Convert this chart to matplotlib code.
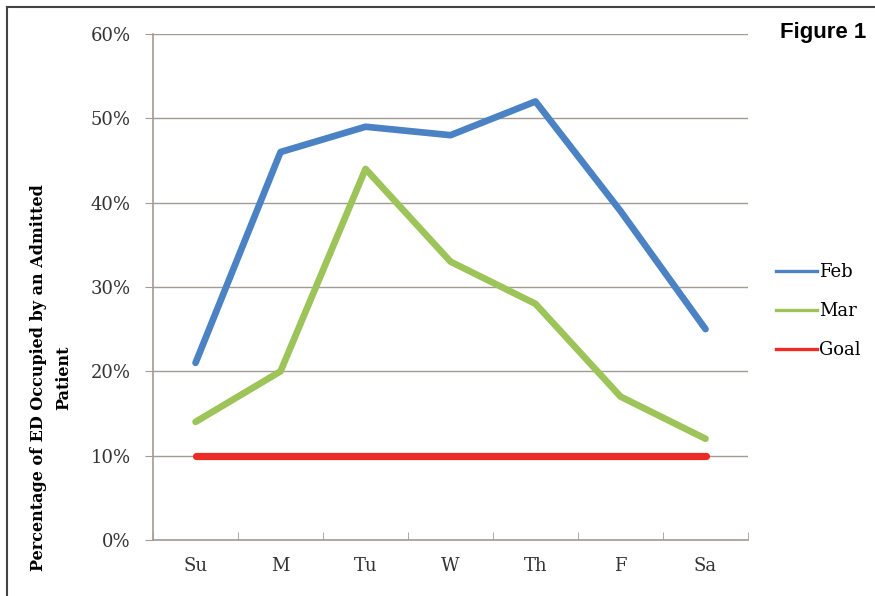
import matplotlib.pyplot as plt
from matplotlib.lines import Line2D

days = ['Su', 'M', 'Tu', 'W', 'Th', 'F', 'Sa']
feb = [21, 46, 49, 48, 52, 39, 25]
mar = [14, 20, 44, 33, 28, 17, 12]
goal = [10, 10, 10, 10, 10, 10, 10]
yticks = [0, 10, 20, 30, 40, 50, 60]

plt.rcParams['font.family'] = ['DejaVu Serif']

fig = plt.figure(figsize=(8.75, 5.96), dpi=100)
ax = fig.add_axes([0.1749, 0.094, 0.68, 0.849])

grid_col = '#a39a92'
x = range(len(days))
ax.plot(x, feb, color='#4a82c4', lw=4.8, solid_capstyle='round', label='Feb')
ax.plot(x, mar, color='#9cc459', lw=4.8, solid_capstyle='round', label='Mar')
ax.plot(x, goal, color='#ec2b25', lw=5.2, solid_capstyle='round', label='Goal')

ax.set_xlim(-0.5, 6.5)
ax.set_ylim(0, 60)
ax.set_yticks(yticks)
ax.set_yticklabels([f'{v}%' for v in yticks])
ax.set_xticks(list(x))
ax.set_xticklabels(days)
ax.set_xticks([i - 0.5 for i in range(8)], minor=True)
ax.tick_params(axis='x', which='major', length=0, pad=12, labelsize=13, colors='#333333')
ax.tick_params(axis='x', which='minor', length=6, color=grid_col, direction='in')
ax.tick_params(axis='y', length=6, color=grid_col, pad=10, labelsize=13, labelcolor='#333333')
ax.grid(axis='y', color=grid_col, lw=1)
ax.set_axisbelow(True)
for s in ['top', 'right']:
    ax.spines[s].set_visible(False)
for s in ['left', 'bottom']:
    ax.spines[s].set_color(grid_col)
    ax.spines[s].set_linewidth(1.2)

ax.set_ylabel('Percentage of ED Occupied by an Admitted\nPatient', fontsize=11.5,
              fontweight='bold', linespacing=1.65)
ax.yaxis.set_label_coords(-0.135, 0.32)

handles = [Line2D([], [], color='#4a82c4', lw=2.4),
           Line2D([], [], color='#9cc459', lw=2.4),
           Line2D([], [], color='#ec2b25', lw=2.4)]
fig.legend(handles, ['Feb', 'Mar', 'Goal'], loc='center left',
           bbox_to_anchor=(0.868, 0.478), frameon=False, fontsize=13,
           handlelength=2.3, handletextpad=0.1, labelspacing=1.15)

fig.text(0.99, 0.945, 'Figure 1', ha='right', va='center', fontsize=16,
         fontweight='bold', family=['Liberation Sans', 'DejaVu Sans'])

# border
fig.add_artist(Line2D([0.008, 0.008], [0.0, 0.988], color='#444444', lw=1.5, transform=fig.transFigure))
fig.add_artist(Line2D([0.008, 1.0], [0.988, 0.988], color='#444444', lw=1.5, transform=fig.transFigure))

fig.savefig('out.png', dpi=100)
